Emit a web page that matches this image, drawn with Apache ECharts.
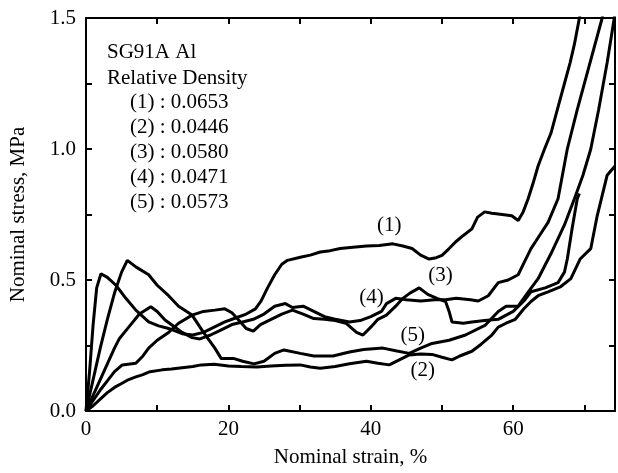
<!DOCTYPE html>
<html>
<head>
<meta charset="utf-8">
<script src="https://cdn.jsdelivr.net/npm/echarts@6/dist/echarts.min.js"></script>
<style>
html,body{margin:0;padding:0;background:#fff;}
#c{width:618px;height:473px;}
</style>
</head>
<body>
<div id="c"></div>
<script>
// ---- data (x: nominal strain %, y: nominal stress MPa) ----
const curve1 = [[0,0],[0.5,0.15],[1,0.33],[1.5,0.47],[2.1,0.524],[3,0.51],[4.2,0.48],[5.6,0.43],[7,0.385],[8.8,0.34],[10.2,0.325],[11.6,0.315],[13.5,0.295],[15,0.29],[16.5,0.30],[18,0.32],[19.5,0.34],[21,0.355],[22.5,0.37],[23.8,0.39],[24.6,0.42],[25.5,0.47],[26.5,0.52],[27.5,0.56],[28.3,0.575],[30.1,0.587],[31.5,0.595],[32.9,0.607],[34.3,0.612],[35.7,0.62],[37.5,0.625],[39.4,0.63],[41.2,0.632],[43.1,0.638],[44.5,0.63],[45.8,0.62],[47,0.595],[48.2,0.58],[49.2,0.585],[50,0.594],[51,0.62],[51.9,0.645],[53,0.67],[54.2,0.695],[55,0.74],[56,0.76],[57,0.755],[57.9,0.752],[59.8,0.745],[60.7,0.727],[61.4,0.76],[62.1,0.81],[62.8,0.87],[63.5,0.935],[64.4,1.0],[65.3,1.06],[66.2,1.15],[67.2,1.25],[68,1.33],[68.6,1.4],[69.3,1.5],[69.6,1.55]];
const curve2 = [[0,0],[1,0.02],[2,0.045],[3,0.07],[4,0.09],[5,0.105],[6,0.12],[7,0.13],[7.9,0.138],[9,0.15],[10.7,0.157],[12,0.16],[13.5,0.165],[15,0.17],[16.2,0.176],[18,0.178],[20,0.172],[21.8,0.17],[24,0.168],[26,0.172],[28,0.175],[30.1,0.176],[31.5,0.168],[32.9,0.163],[35,0.17],[37,0.18],[39.4,0.19],[41,0.182],[42.6,0.176],[44,0.195],[45.4,0.214],[47,0.218],[48.6,0.216],[50,0.205],[51.4,0.195],[52.5,0.21],[54.2,0.228],[55.5,0.255],[57,0.29],[57.9,0.32],[59,0.335],[60.3,0.35],[61.5,0.39],[62.5,0.418],[63.5,0.44],[64.9,0.455],[66.7,0.475],[68.1,0.505],[69.4,0.58],[70.9,0.62],[71.8,0.745],[73.2,0.9],[74.3,0.935]];
const curve3 = [[0,0],[1,0.04],[2,0.08],[3,0.115],[4,0.15],[5.1,0.176],[7,0.182],[8,0.21],[8.8,0.24],[10,0.27],[11.6,0.30],[13,0.335],[14.9,0.366],[16.5,0.38],[18.1,0.385],[19.5,0.39],[20.5,0.375],[21.5,0.345],[22.5,0.315],[23.5,0.305],[24.5,0.33],[26,0.35],[27.5,0.37],[29,0.385],[30.5,0.37],[32,0.353],[33.5,0.35],[35,0.345],[36.5,0.335],[38,0.30],[38.9,0.29],[40,0.32],[41,0.35],[42.2,0.366],[43.5,0.40],[44.5,0.43],[45.5,0.45],[46.8,0.47],[48,0.445],[49.3,0.43],[50.5,0.418],[51,0.38],[51.4,0.34],[53,0.335],[54.2,0.34],[56,0.345],[57.9,0.35],[60,0.38],[61.5,0.42],[62.5,0.455],[64.5,0.47],[66.3,0.49],[67.2,0.53],[67.6,0.58],[68.3,0.7],[69,0.81],[69.3,0.83]];
const curve4 = [[0,0],[1,0.06],[2,0.12],[3,0.18],[4,0.24],[4.7,0.277],[6,0.32],[7.5,0.37],[9.1,0.398],[10,0.38],[11.1,0.347],[12.5,0.32],[13.5,0.30],[14.9,0.28],[16,0.275],[17.5,0.29],[19,0.31],[20.5,0.33],[22,0.34],[23.5,0.35],[25,0.37],[26.5,0.40],[28,0.41],[29,0.395],[30.5,0.40],[32,0.38],[33.5,0.36],[35,0.35],[37,0.34],[38.5,0.345],[40,0.36],[41.5,0.38],[42.2,0.41],[43.5,0.43],[45,0.425],[47,0.42],[49,0.425],[50.5,0.425],[52,0.43],[54,0.425],[55.1,0.42],[56.5,0.44],[57.9,0.49],[59.3,0.5],[60.7,0.52],[61.6,0.57],[62.5,0.62],[63.7,0.67],[64.9,0.72],[66.3,0.81],[67.6,1.0],[69,1.15],[70.5,1.3],[72.5,1.5],[72.8,1.55]];
const curve5 = [[0,0],[1,0.12],[2,0.24],[3,0.35],[4,0.45],[5,0.53],[5.8,0.575],[7,0.55],[8.8,0.52],[10,0.48],[11.6,0.44],[13,0.40],[14.9,0.366],[16.5,0.3],[18.1,0.24],[19,0.2],[20.8,0.2],[22,0.19],[23.6,0.18],[25,0.19],[26.5,0.22],[27.8,0.233],[30.1,0.22],[32,0.21],[34.7,0.21],[37,0.225],[39,0.235],[41.7,0.24],[43.5,0.23],[45.4,0.22],[47,0.24],[48.6,0.258],[51,0.27],[53.3,0.29],[56.1,0.328],[57.9,0.38],[59,0.40],[60.7,0.40],[62,0.45],[63.5,0.505],[65.3,0.6],[67.2,0.71],[68.6,0.81],[69.8,0.9],[70.9,1.0],[72,1.15],[73.2,1.33],[74.2,1.5],[74.4,1.55]];
const curveLabels = [
  {name:'(1)', x:42.6, y:0.708},
  {name:'(3)', x:49.8, y:0.517},
  {name:'(4)', x:40.1, y:0.435},
  {name:'(5)', x:45.9, y:0.290},
  {name:'(2)', x:47.3, y:0.155}
];
const infoLines = ['SG91A Al','Relative Density','(1) : 0.0653','(2) : 0.0446','(3) : 0.0580','(4) : 0.0471','(5) : 0.0573'];
const xTicks = [0,20,40,60];
const yTicks = [0.0,0.5,1.0,1.5];

const FONT = '"Liberation Serif","Times New Roman",serif';
const chart = echarts.init(document.getElementById('c'), null, {renderer:'canvas'});

const lineStyle = {color:'#000', width:3};
function mk(data){
  return {type:'line', data:data, showSymbol:false, symbol:'none', lineStyle:lineStyle, clip:true, z:3, animation:false};
}
const axisCommon = {
  axisLine:{show:true, onZero:false, lineStyle:{color:'#000', width:2}},
  axisTick:{show:true, inside:true, length:6, lineStyle:{color:'#000', width:2}},
  splitLine:{show:false}
};

const graphics = infoLines.map((t,i)=>({
  type:'text',
  left: i<2 ? 107 : 130,
  top: (i===0? 42 : i===1 ? 68 : 92 + (i-2)*25),
  style:{text:t, font:'21px '+FONT, fill:'#000'}
}));

chart.setOption({
  animation:false,
  backgroundColor:'#fff',
  grid:{left:83, right:-1, top:18, bottom:60, containLabel:false},
  xAxis:[
    Object.assign({type:'value', min:0, max:74.3, interval:10, position:'bottom',
      name:'Nominal strain, %', nameLocation:'middle', nameGap:36,
      nameTextStyle:{fontFamily:FONT, fontSize:21, color:'#000'},
      axisLabel:{fontFamily:FONT, fontSize:21, color:'#000', margin:8,
        formatter:v=> xTicks.indexOf(v)>=0 ? String(v) : ''}}, axisCommon),
    Object.assign({type:'value', min:0, max:74.3, interval:10, position:'top',
      axisLabel:{show:false}}, axisCommon)
  ],
  yAxis:[
    Object.assign({type:'value', min:0, max:1.5, interval:0.25, position:'left',
      name:'Nominal stress, MPa', nameLocation:'middle', nameGap:57,
      nameTextStyle:{fontFamily:FONT, fontSize:21, color:'#000'},
      axisLabel:{fontFamily:FONT, fontSize:21, color:'#000', margin:10,
        formatter:v=> yTicks.some(t=>Math.abs(t-v)<1e-9) ? v.toFixed(1) : ''}}, axisCommon),
    Object.assign({type:'value', min:0, max:1.5, interval:0.25, position:'right',
      axisLabel:{show:false}}, axisCommon)
  ],
  series:[
    mk(curve1), mk(curve2), mk(curve3), mk(curve4), mk(curve5),
    {type:'scatter', symbolSize:0, z:5, animation:false, silent:true,
      itemStyle:{opacity:1, color:'#000'},
      data: curveLabels.map(l=>({value:[l.x,l.y], name:l.name})),
      label:{show:true, position:'inside', formatter:p=>p.name, opacity:1,
        fontFamily:FONT, fontSize:21, color:'#000', textBorderWidth:0}}
  ],
  graphic: graphics
});
</script>
</body>
</html>
